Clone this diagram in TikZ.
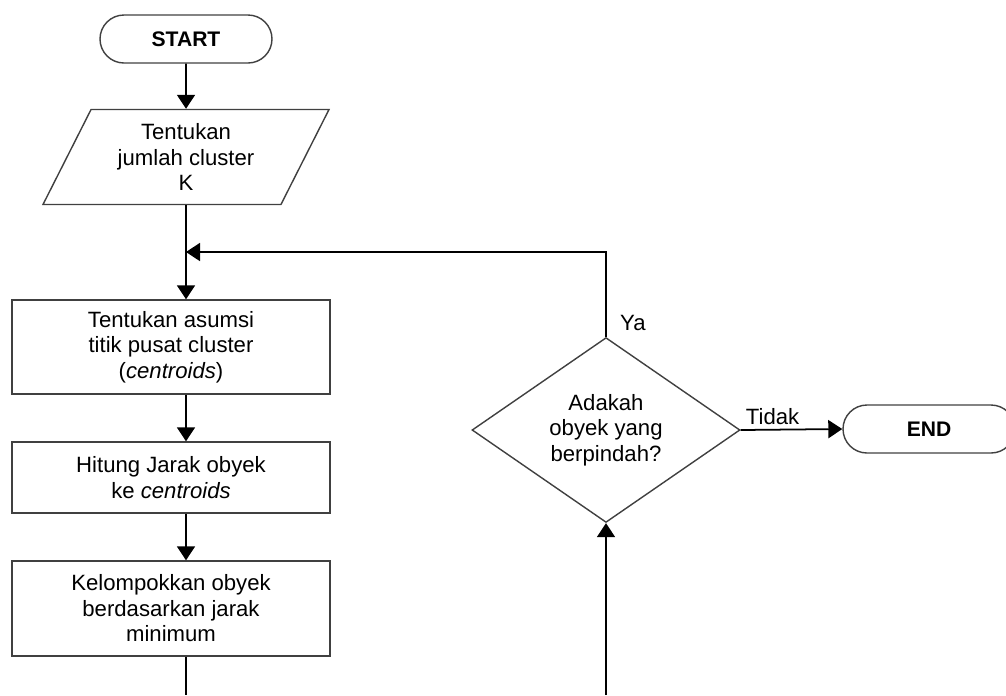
\documentclass[tikz,border=0pt]{standalone}
\usepackage{fontspec}
\setmainfont{Liberation Sans}
\usetikzlibrary{arrows.meta,shapes.geometric,calc}
\tikzset{flowFig/.style={->,>={Triangle[length=2.8mm,width=3.6mm]},line width=1pt,
                    font=\fontsize{12.6}{14.5}\selectfont},
         procBox/.style={draw=black!75,line width=0.8pt,rectangle,minimum width=6.36cm,align=center},
         termBox/.style={draw=black!75,line width=0.8pt,rounded corners=0.48cm,minimum width=3.44cm,
                    minimum height=0.96cm,font=\fontsize{12}{14.5}\selectfont\bfseries},
         ioBox/.style={draw=black!75,line width=0.8pt,trapezium,trapezium left angle=58.6,
                    trapezium right angle=121.4,trapezium stretches body,minimum width=5.72cm,
                    minimum height=1.9cm,align=center},
         decBox/.style={draw=black!75,line width=0.8pt,diamond,minimum width=5.36cm,
                    minimum height=3.28cm,inner sep=0pt,align=center}}

\begin{document}
\begin{tikzpicture}[flowFig]
			\useasboundingbox (0,0) rectangle (20.12,-13.9);
			%LEFT COLUMN
			\node [termBox] (s0) at (3.72,-0.78)     {START};
			\node [ioBox] (in0) at (3.72,-3.14)     {Tentukan\\jumlah cluster\\K};
			\node [procBox, minimum height=1.88cm] (p1) at (3.42,-6.94)     {Tentukan asumsi\\titik pusat cluster\\(\textit{centroids})};
			\node [procBox, minimum height=1.42cm] (p2) at (3.42,-9.55)     {Hitung Jarak obyek\\ke \textit{centroids}};
			\node [procBox, minimum height=1.9cm] (p3) at (3.42,-12.17)     {Kelompokkan obyek\\berdasarkan jarak\\minimum};
			\coordinate (join) at (3.72,-5.04);
			\coordinate (bL) at (3.72,-13.9);
			%RIGHT COLUMN
			\node [decBox] (d1) at (12.12,-8.6)     {Adakah\\obyek yang\\berpindah?};
			\node [termBox] (e0) at (18.58,-8.58)     {END};
			\coordinate (bR) at (12.12,-13.9);

			%
			\path[->]
			%LEFT COLUMN
			(s0) edge (in0)
			(in0.south) edge (in0.south |- p1.north)
			(p1.south -| join) edge (p2.north -| join)
			(p2.south -| join) edge (p3.north -| join)
			(p3.south -| join) edge [-] (bL)

			%RIGHT COLUMN
			(bR) edge (d1.south)
			(d1.east) edge node [pos=0, anchor=south west, inner sep=2.5pt] {Tidak} (e0.west)
			;
			\draw (d1.north) |- node [pos=0.08, right=0.15cm] {Ya} (join);

		\end{tikzpicture}
\end{document}
